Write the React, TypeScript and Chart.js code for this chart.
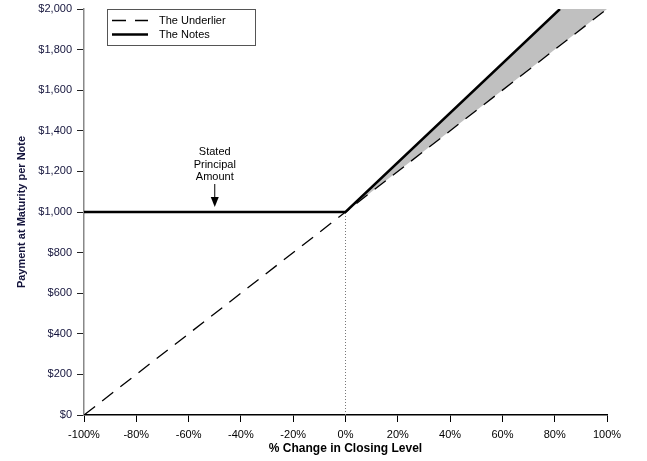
import React, { useEffect, useRef } from 'react';
import { Chart, registerables } from 'chart.js';

Chart.register(...registerables);

// % change in closing level vs. payment at maturity per note
const underlierX = [-100, 100];
const underlierY = [0, 2000];
const notesX = [-100, 0, 82];
const notesY = [1000, 1000, 2000];
const shadeX = [0, 82, 100];
const shadeY = [1000, 2000, 2000];
const shadeBaseX = [0, 100];
const shadeBaseY = [1000, 2000];
const zeroLineX = [0, 0];
const zeroLineY = [0, 1000];

const principalLabel = ['Stated', 'Principal', 'Amount'];
const principalAtX = -50;
const principalAmount = 1000;

const legendLabels = ['The Underlier', 'The Notes'];

const FONT = '"Liberation Sans", Arial, sans-serif';

const toPoints = (xs: number[], ys: number[]) => xs.map((x, i) => ({ x, y: ys[i] }));

// legend with a border, drawn in the upper left of the plot
const legendBox = {
  id: 'legendBox',
  afterDatasetsDraw(chart: any) {
    const { ctx, chartArea } = chart;
    const left = chartArea.left + 23;
    const top = chartArea.top;
    ctx.save();
    ctx.strokeStyle = '#555';
    ctx.lineWidth = 1;
    ctx.strokeRect(left + 0.5, top + 0.5, 148, 36);
    const items = legendLabels.map(l => chart.data.datasets.find((d: any) => d.label === l));
    items.forEach((ds: any, i: number) => {
      const y = top + 11.5 + i * 14;
      ctx.beginPath();
      ctx.setLineDash(ds.borderDash || []);
      ctx.lineWidth = ds.borderWidth;
      ctx.strokeStyle = ds.borderColor;
      ctx.moveTo(left + 5, y);
      ctx.lineTo(left + 41, y);
      ctx.stroke();
      ctx.setLineDash([]);
      ctx.fillStyle = '#000';
      ctx.font = `11px ${FONT}`;
      ctx.textBaseline = 'middle';
      ctx.textAlign = 'left';
      ctx.fillText(ds.label, left + 52, y);
    });
    ctx.restore();
  },
};

// "Stated Principal Amount" note with arrow
const principalNote = {
  id: 'principalNote',
  afterDatasetsDraw(chart: any) {
    const { ctx, scales } = chart;
    const x = scales.x.getPixelForValue(principalAtX);
    const y = scales.y.getPixelForValue(principalAmount);
    ctx.save();
    ctx.fillStyle = '#000';
    ctx.font = `11px ${FONT}`;
    ctx.textAlign = 'center';
    ctx.textBaseline = 'middle';
    principalLabel.forEach((t, i) => ctx.fillText(t, x, y - 60 + i * 12.5));
    ctx.strokeStyle = '#000';
    ctx.lineWidth = 1;
    ctx.beginPath();
    ctx.moveTo(x, y - 28);
    ctx.lineTo(x, y - 14);
    ctx.stroke();
    ctx.beginPath();
    ctx.moveTo(x - 4, y - 15);
    ctx.lineTo(x + 4, y - 15);
    ctx.lineTo(x, y - 5);
    ctx.closePath();
    ctx.fill();
    ctx.restore();
  },
};

const App: React.FC = () => {
  const chartRef = useRef<HTMLCanvasElement>(null);
  const chartInstance = useRef<Chart | null>(null);

  useEffect(() => {
    document.body.style.margin = '0';
    if (!chartRef.current) return;
    if (chartInstance.current) chartInstance.current.destroy();

    const ctx = chartRef.current.getContext('2d');
    if (!ctx) return;

    chartInstance.current = new Chart(ctx, {
      type: 'scatter',
      data: {
        datasets: [
          {
            label: 'shade',
            data: toPoints(shadeX, shadeY),
            showLine: true,
            borderWidth: 0,
            borderColor: 'rgba(0,0,0,0)',
            backgroundColor: '#c0c0c0',
            fill: 1,
            pointRadius: 0,
            order: 5,
          },
          {
            label: 'shadeBase',
            data: toPoints(shadeBaseX, shadeBaseY),
            showLine: true,
            borderWidth: 0,
            borderColor: 'rgba(0,0,0,0)',
            fill: false,
            pointRadius: 0,
            order: 6,
          },
          {
            label: 'zero',
            data: toPoints(zeroLineX, zeroLineY),
            showLine: true,
            borderWidth: 1,
            borderColor: '#777',
            borderDash: [1, 2],
            fill: false,
            pointRadius: 0,
            order: 4,
          },
          {
            label: 'The Underlier',
            data: toPoints(underlierX, underlierY),
            showLine: true,
            borderWidth: 1.3,
            borderColor: '#000',
            borderDash: [14, 9],
            fill: false,
            pointRadius: 0,
            order: 2,
          },
          {
            label: 'The Notes',
            data: toPoints(notesX, notesY),
            showLine: true,
            borderWidth: 2.5,
            borderColor: '#000',
            fill: false,
            pointRadius: 0,
            order: 1,
          },
        ],
      },
      options: {
        responsive: true,
        maintainAspectRatio: false,
        animation: false,
        layout: { padding: { top: 9, right: 40, left: 0, bottom: 0 } },
        plugins: {
          legend: { display: false },
          tooltip: { enabled: false },
        },
        scales: {
          x: {
            type: 'linear',
            min: -100,
            max: 100,
            afterFit: (s: any) => { s.height = 46; },
            grid: { drawOnChartArea: false, drawTicks: true, tickLength: 7, color: '#000' },
            border: { color: '#000', width: 1.5 },
            ticks: {
              stepSize: 20,
              padding: 6,
              color: '#000',
              font: { family: FONT, size: 11 },
              callback: (v: any) => `${v}%`,
            },
            title: {
              display: true,
              text: '% Change in Closing Level',
              color: '#000',
              font: { family: FONT, size: 12, weight: 'bold' },
              padding: { top: 0, bottom: 5 },
            },
          },
          y: {
            min: 0,
            max: 2000,
            afterFit: (s: any) => {
              s.width = 84;
              s.paddingTop = 0;
              s.paddingBottom = 0;
            },
            grid: { drawOnChartArea: false, drawTicks: true, tickLength: 7, color: '#222' },
            border: { color: '#888', width: 1.5 },
            ticks: {
              stepSize: 200,
              padding: 5,
              color: '#14143c',
              font: { family: FONT, size: 11 },
              callback: (v: any) => `$${Number(v).toLocaleString('en-US')}`,
            },
            title: {
              display: true,
              text: 'Payment at Maturity per Note',
              color: '#14143c',
              font: { family: FONT, size: 11, weight: 'bold' },
              padding: { top: 15, bottom: 0 },
            },
          },
        },
      },
      plugins: [legendBox, principalNote],
    });

    return () => {
      if (chartInstance.current) {
        chartInstance.current.destroy();
        chartInstance.current = null;
      }
    };
  }, []);

  return (
    <div style={{ width: 647, height: 461, position: 'relative', background: '#fff' }}>
      <canvas ref={chartRef}></canvas>
    </div>
  );
};

export default App;
